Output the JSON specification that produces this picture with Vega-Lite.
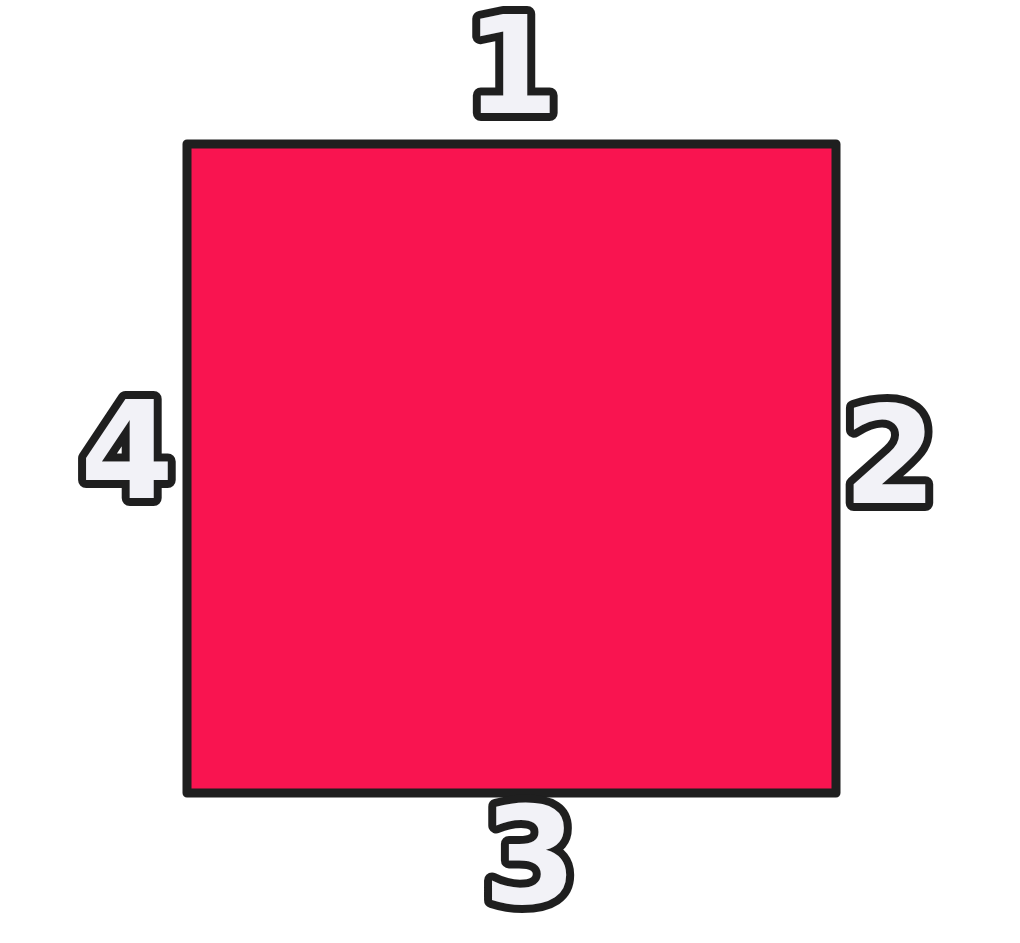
{
  "$schema": "https://vega.github.io/schema/vega-lite/v6.json",
  "autosize": {"type": "fit", "contains": "padding"},
  "width": 1020,
  "height": 943,
  "padding": 0,
  "background": "#ffffff",
  "datasets": {
    "square": [{"x": 187, "x2": 836, "y": 144, "y2": 793}],
    "labels": [
      {"label": "1", "x": 512, "y": 72},
      {"label": "2", "x": 890, "y": 462},
      {"label": "3", "x": 530, "y": 862},
      {"label": "4", "x": 127, "y": 457}
    ]
  },
  "layer": [
    {
      "data": {"name": "square"},
      "mark": {"type": "rect", "fill": "#F91450", "stroke": "#1f1f1f", "strokeWidth": 9, "strokeJoin": "round"},
      "encoding": {
        "x": {"field": "x", "type": "quantitative", "scale": {"domain": [0, 1020]}, "axis": null},
        "x2": {"field": "x2"},
        "y": {"field": "y", "type": "quantitative", "scale": {"domain": [943, 0]}, "axis": null},
        "y2": {"field": "y2"}
      }
    },
    {
      "data": {"name": "labels"},
      "mark": {"type": "text", "font": "DejaVu Sans", "fontWeight": "bold", "fontSize": 135, "baseline": "middle", "align": "center", "fill": "#1f1f1f", "stroke": "#1f1f1f", "strokeWidth": 16, "strokeJoin": "round"},
      "encoding": {
        "x": {"field": "x", "type": "quantitative", "scale": {"domain": [0, 1020]}, "axis": null},
        "y": {"field": "y", "type": "quantitative", "scale": {"domain": [943, 0]}, "axis": null},
        "text": {"field": "label"}
      }
    },
    {
      "data": {"name": "labels"},
      "mark": {"type": "text", "font": "DejaVu Sans", "fontWeight": "bold", "fontSize": 135, "baseline": "middle", "align": "center", "fill": "#F2F2F7"},
      "encoding": {
        "x": {"field": "x", "type": "quantitative", "scale": {"domain": [0, 1020]}, "axis": null},
        "y": {"field": "y", "type": "quantitative", "scale": {"domain": [943, 0]}, "axis": null},
        "text": {"field": "label"}
      }
    }
  ],
  "config": {"view": {"stroke": null}}
}
